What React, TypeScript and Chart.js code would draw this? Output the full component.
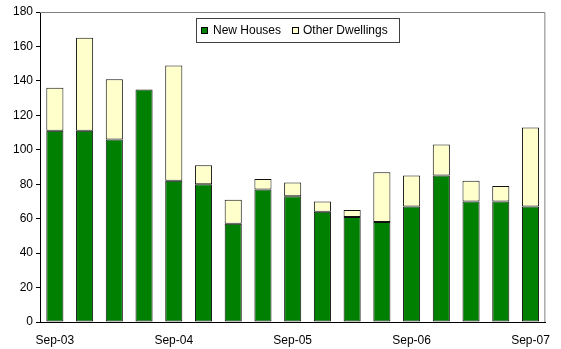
import React, { useEffect, useRef } from "react";
import { Chart, registerables } from "chart.js";

Chart.register(...registerables);

const quarters = [
  "Sep-03", "Dec-03", "Mar-04", "Jun-04", "Sep-04", "Dec-04", "Mar-05", "Jun-05",
  "Sep-05", "Dec-05", "Mar-06", "Jun-06", "Sep-06", "Dec-06", "Mar-07", "Jun-07", "Sep-07",
];
const newHouses = [111, 111, 106, 135, 82, 80, 57, 77, 73, 64, 61, 58, 67, 85, 70, 70, 67];
const otherDwellings = [25, 54, 35, 0, 67, 11, 14, 6, 8, 6, 4, 29, 18, 18, 12, 9, 46];
const yTicks = [0, 20, 40, 60, 80, 100, 120, 140, 160, 180];

const FONT = 'Arial, "Liberation Sans", sans-serif';
const GREEN = "#008000";
const CREAM = "#FFFFCC";

// Grey frame on the top and right of the plot area
const framePlugin = {
  id: "frame",
  beforeDatasetsDraw(chart: any) {
    const { ctx, chartArea: a } = chart;
    ctx.save();
    ctx.strokeStyle = "#808080";
    ctx.lineWidth = 1;
    ctx.beginPath();
    ctx.moveTo(a.left, a.top + 0.5);
    ctx.lineTo(a.right - 0.5, a.top + 0.5);
    ctx.lineTo(a.right - 0.5, a.bottom);
    ctx.stroke();
    ctx.restore();
  },
};

// Boxed legend drawn inside the plot area
const boxLegendPlugin = {
  id: "boxLegend",
  afterDraw(chart: any) {
    const { ctx } = chart;
    const x = 196, y = 18, w = 203, h = 24;
    ctx.save();
    ctx.fillStyle = "#ffffff";
    ctx.fillRect(x, y, w, h);
    ctx.strokeStyle = "#404040";
    ctx.lineWidth = 1;
    ctx.strokeRect(x + 0.5, y + 0.5, w, h);
    ctx.font = `12px ${FONT}`;
    ctx.textBaseline = "middle";
    const items = [
      { label: chart.data.datasets[0].label, color: GREEN, sx: 201, tx: 213 },
      { label: chart.data.datasets[1].label, color: CREAM, sx: 292, tx: 303 },
    ];
    for (const it of items) {
      ctx.fillStyle = it.color;
      ctx.fillRect(it.sx, 27, 7, 7);
      ctx.strokeStyle = "#000";
      ctx.strokeRect(it.sx + 0.5, 27.5, 6, 6);
      ctx.fillStyle = "#000";
      ctx.fillText(it.label, it.tx, 31);
    }
    ctx.restore();
  },
};

// No outline for empty segments
const edge = (ctx: any) => (ctx.raw === 0 ? 0 : 1);

export default function App() {
  const ref = useRef<HTMLCanvasElement | null>(null);

  useEffect(() => {
    if (!ref.current) return;
    const chart = new Chart(ref.current, {
      type: "bar",
      data: {
        labels: quarters,
        datasets: [
          {
            label: "New Houses",
            data: newHouses,
            backgroundColor: GREEN,
            borderColor: "#111",
            borderWidth: edge,
            borderSkipped: false,
            categoryPercentage: 1,
            barPercentage: 0.575,
          },
          {
            label: "Other Dwellings",
            data: otherDwellings,
            backgroundColor: CREAM,
            borderColor: "#111",
            borderWidth: edge,
            borderSkipped: false,
            categoryPercentage: 1,
            barPercentage: 0.575,
          },
        ],
      },
      options: {
        responsive: false,
        animation: false,
        layout: { padding: { left: 0, right: 5, top: 12, bottom: 0 } },
        plugins: {
          legend: { display: false },
          tooltip: { enabled: false },
        },
        scales: {
          x: {
            stacked: true,
            grid: { display: true, drawOnChartArea: false, drawTicks: false },
            border: { display: true, color: "#000", width: 1 },
            ticks: {
              autoSkip: false,
              maxRotation: 0,
              padding: 11,
              color: "#000",
              font: { family: FONT, size: 12 },
              callback: function (this: any, value: any, index: number) {
                return index % 4 === 0 ? this.getLabelForValue(value) : "";
              },
            },
            afterFit: (s: any) => {
              s.height = 27;
            },
          },
          y: {
            stacked: true,
            min: 0,
            max: 180,
            afterBuildTicks: (s: any) => {
              s.ticks = yTicks.map((v) => ({ value: v }));
            },
            grid: {
              display: true,
              drawOnChartArea: false,
              drawTicks: true,
              tickLength: 4,
              color: "#000",
            },
            border: { display: true, color: "#000", width: 1 },
            ticks: {
              padding: 3,
              color: "#000",
              font: { family: FONT, size: 12 },
            },
            afterFit: (s: any) => {
              s.width = 40;
            },
          },
        },
      },
      plugins: [framePlugin, boxLegendPlugin],
    });
    return () => chart.destroy();
  }, []);

  return (
    <div style={{ position: "absolute", left: 0, top: 0, width: 561, height: 349, background: "#fff" }}>
      <canvas ref={ref} width={561} height={349} style={{ display: "block" }} />
    </div>
  );
}
